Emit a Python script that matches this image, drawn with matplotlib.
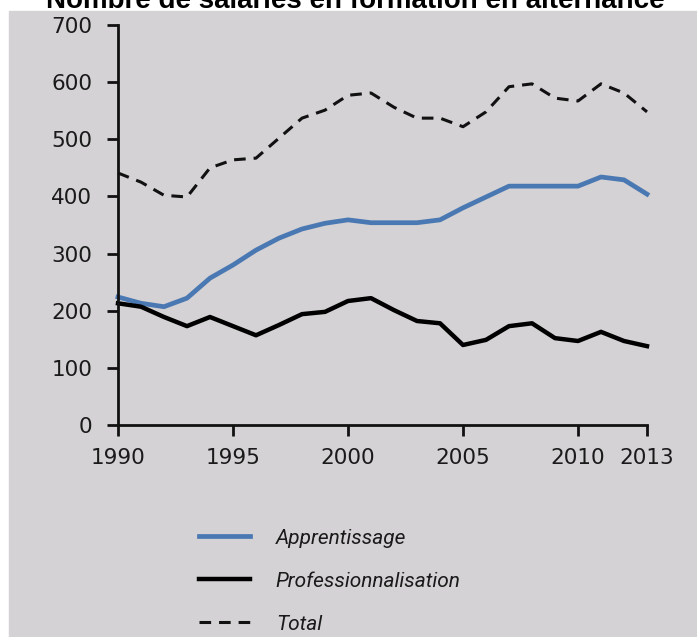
import matplotlib.pyplot as plt
from matplotlib.patches import Rectangle

years = list(range(1990, 2014))
apprentissage = [224, 213, 207, 222, 257, 280, 306, 327, 343, 353, 359, 354,
                 354, 354, 359, 380, 399, 418, 418, 418, 418, 434, 429, 404]
professionnalisation = [213, 207, 189, 173, 189, 173, 157, 175, 194, 198, 217, 222,
                        201, 182, 178, 140, 149, 173, 178, 152, 147, 163, 147, 138]
total = [441, 425, 402, 399, 450, 464, 467, 502, 537, 551, 577, 581,
         556, 537, 537, 522, 548, 592, 597, 572, 567, 597, 581, 548]
xticks = [1990, 1995, 2000, 2005, 2010, 2013]
yticks = [0, 100, 200, 300, 400, 500, 600, 700]

W, H = 697, 637
fig = plt.figure(figsize=(W / 100, H / 100), dpi=100)
fig.patch.set_facecolor('white')
# grey panel behind the chart
fig.patches.append(Rectangle((9 / W, 0), 1, (H - 11) / H, transform=fig.transFigure,
                             color='#d4d2d4', zorder=-10))

ax = fig.add_axes([118 / W, (H - 425) / H, (647 - 118) / W, 400 / H])
ax.set_facecolor('none')

ax.plot(years, apprentissage, color='#4a78b2', lw=3.4, label='Apprentissage',
        solid_joinstyle='round', clip_on=False)
ax.plot(years, professionnalisation, color='black', lw=3.2, label='Professionnalisation',
        solid_joinstyle='round', clip_on=False)
ax.plot(years, total, color='#111111', lw=2.2, dashes=(3.8, 2.6), label='Total',
        clip_on=False)

ax.set_xlim(1990, 2013)
ax.set_ylim(0, 700)
ax.set_xticks(xticks)
ax.set_yticks(yticks)
for s in ['top', 'right']:
    ax.spines[s].set_visible(False)
for s in ['left', 'bottom']:
    ax.spines[s].set_linewidth(2)
    ax.spines[s].set_color('#111111')
ax.tick_params(axis='both', direction='out', length=8, width=2, color='#111111',
               labelsize=15.5, labelcolor='#1a1a1a')
ax.tick_params(axis='y', pad=10.5)
ax.tick_params(axis='x', pad=8.5)

leg = ax.legend(loc='upper left', bbox_to_anchor=(180 / W, (H - 510) / H),
                bbox_transform=fig.transFigure, frameon=False,
                handlelength=2.45, handletextpad=1.25, labelspacing=1.15,
                prop={'family': ['Roboto', 'DejaVu Sans'],
                      'style': 'italic', 'size': 15})
for t in leg.get_texts():
    t.set_color('#1a1a1a')

fig.text(355 / W, (H - 8) / H, 'Nombre de salariés en formation en alternance',
         ha='center', va='baseline', fontsize=20, fontweight='bold',
         family=['Liberation Sans', 'DejaVu Sans'])

fig.savefig('out.png', dpi=100)
